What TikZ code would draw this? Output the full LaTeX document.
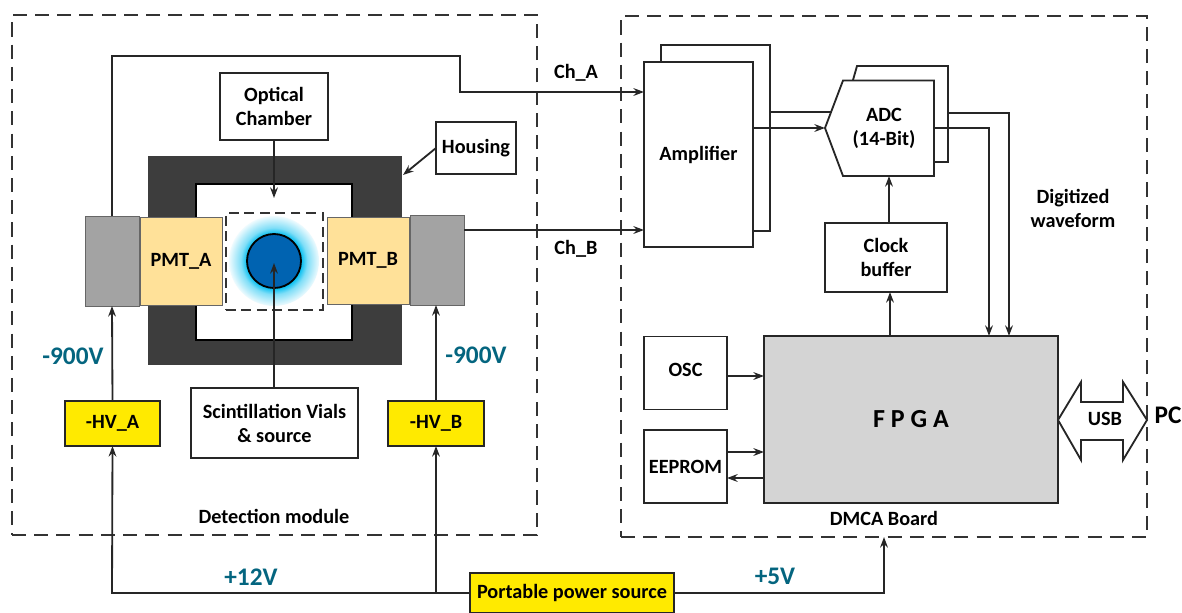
\documentclass[tikz,border=0pt]{standalone}
\usepackage{fontspec}
\setmainfont{Carlito}
\usepackage{xcolor}
\usetikzlibrary{arrows, arrows.meta, positioning, calc}
\definecolor{voltteal}{HTML}{04657F}
\definecolor{pmtfill}{HTML}{FFE199}
\definecolor{tubegray}{HTML}{A3A3A3}
\definecolor{housingdark}{HTML}{3D3D3D}
\definecolor{fpgagray}{HTML}{D4D4D4}
\definecolor{supplyyellow}{HTML}{FFEA00}
\definecolor{vialblue}{HTML}{0063B1}
\definecolor{glowcyan}{HTML}{00BDF0}
\pgfdeclareradialshading{vialglow}{\pgfpointorigin}{
  color(0bp)=(glowcyan); color(15bp)=(glowcyan); color(18.5bp)=(glowcyan!50); color(26bp)=(white); color(50bp)=(white)}
\tikzset{
  sized/.style 2 args={minimum width=#1*0.025cm, minimum height=#2*0.025cm},
  block/.style={rectangle, draw=black!85, line width=1.3pt, fill=white, inner sep=0pt, outer sep=0pt,
                align=center, font=\fontsize{14.4}{17}\selectfont\bfseries},
  module/.style={rectangle, draw=black!80, line width=1.1pt, dash pattern=on 10pt off 5.8pt,
                 inner sep=0pt, outer sep=0pt},
  plate/.style={draw=black!85, line width=1.3pt, line join=miter},
  wire/.style={draw=black!85, line width=1.3pt},
  arrow/.style={wire, -{Stealth[length=7.5pt, width=5.5pt]}},
  caption/.style={inner sep=0pt, align=center, font=\fontsize{14.4}{17}\selectfont\bfseries},
  volt/.style={caption, text=voltteal, font=\fontsize{18}{20}\selectfont\bfseries}
}
\begin{document}
\begin{tikzpicture}[x=0.025cm, y=-0.025cm]
  \useasboundingbox (0,0) rectangle (1182,612);

  % Dashed modules
  \node (detmod) [module, sized={525}{520}] at (274.5,275) {};
  \node (dmca)   [module, sized={526}{521}] at (884,276.5) {};

  % Housing and optical chamber
  \node (housing) [block, draw=none, fill=housingdark, sized={254}{209}] at (275,260.5) {};
  \node (cavity)  [block, draw=black, sized={156}{156}] at (274,262) {};
  \shade[shading=vialglow] (274,261) circle (45);
  \node (chamber) [module, sized={97}{97}, line width=1.2pt, dash pattern=on 7pt off 4pt] at (274.5,261.5) {};
  \node (vial)    [circle, draw=black, line width=1.3pt, fill=vialblue, minimum size=54*0.025cm, inner sep=0pt] at (274,261) {};

  % Photomultipliers
  \node (pmtA) [block, fill=pmtfill, draw=black!60, line width=.7pt, sized={82}{88}] at (181,261) {PMT\_A};
  \node (pmtB) [block, fill=pmtfill, draw=black!60, line width=.7pt, sized={82}{87}] at (368,260.5) {PMT\_B};
  \node (baseA) [block, fill=tubegray, draw=black!60, line width=.7pt, sized={54}{90}] at (112,261) {};
  \node (baseB) [block, fill=tubegray, draw=black!60, line width=.7pt, sized={54}{90}] at (437,260) {};

  % Labelled blocks, detection side
  \node (optical) [block, sized={108}{67}] at (274,106.5) {Optical\\Chamber};
  \node (hsglabel) [block, sized={80}{52}] at (476,148) {Housing};
  \node (vials)   [block, sized={167}{70}] at (274.5,423) {Scintillation Vials\\\& source};
  \node (hvA)     [block, fill=supplyyellow, sized={95}{45}] at (112.5,423.5) {-HV\_A};
  \node (hvB)     [block, fill=supplyyellow, sized={96}{45}] at (436,423.5) {-HV\_B};
  \node (power)   [block, fill=supplyyellow, sized={204}{40}] at (572,593) {Portable power source};

  % Amplifier and ADC
  \draw[plate] (661,62) -- (661,45) -- (770,45) -- (770,231) -- (753,231);
  \node (ampl) [block, sized={109}{185}] at (698.5,154.5) {Amplifier};
  \draw[plate] (853,80) -- (857,66) -- (948,66) -- (948,162) -- (934,162);
  \coordinate (adctip) at (825,128);
  \draw[plate, fill=white] (adctip) -- (843,80.5) -- (934,80.5) -- (934,176) -- (843,176) -- cycle;
  \node (adc) [caption] at (884,128) {ADC\\(14-Bit)};
  \coordinate (adcbot) at (889,176);
  \coordinate (adcout) at (934,128);

  % Board blocks
  \node (clock) [block, sized={122}{69}] at (886,257.5) {Clock\\buffer};
  \node (fpga)  [block, fill=fpgagray, sized={294}{167}] at (911,419.5) {};
  \node (fpgatxt) [caption, font=\fontsize{18.5}{20}\selectfont\bfseries] at (911,419) {F P G A};
  \node (osc)    [block, sized={83}{73}, text depth=4pt] at (685.5,373) {OSC};
  \node (eeprom) [block, sized={83}{73}] at (685.5,466.5) {EEPROM};

  % USB link
  \draw[plate, fill=white] (1058,420) -- (1081,382) -- (1081,402) -- (1123,402) -- (1123,382)
        -- (1147,420) -- (1123,460) -- (1123,440) -- (1081,440) -- (1081,460) -- cycle;
  \node (usb) [caption] at (1105,419) {USB};
  \node (pc)  [caption, font=\fontsize{18}{20}\selectfont\bfseries] at (1168,415) {PC};

  % Channel wires
  \draw[arrow] (baseA.north) -- (112,56) -- (460,56) -- (460,92) -- (ampl.west |- 0,92);
  \draw[arrow] (baseB.east |- 0,230) -- (ampl.west |- 0,230);
  \node (chA) [caption] at (576,73) {Ch\_A};
  \node (chB) [caption] at (576,249) {Ch\_B};
  \draw[arrow] (ampl.east |- adctip) -- (adctip);
  \draw[wire] (770,112) -- (831,112);
  \draw[arrow] (adcout) -- (989,128) -- (fpga.north -| 989,0);
  \draw[arrow] (948,113) -- (1009,113) -- (fpga.north -| 1009,0);
  \node (digit) [caption] at (1073,208) {Digitized\\waveform};

  % Clock and memory wires
  \draw[arrow] (clock.north -| adcbot) -- (adcbot);
  \draw[arrow] (fpga.north -| 890,0) -- (clock.south -| 890,0);
  \draw[arrow] (osc.east |- 0,376) -- (fpga.west |- 0,376);
  \draw[arrow] (eeprom.east |- 0,452) -- (fpga.west |- 0,452);
  \draw[arrow] (fpga.west |- 0,478) -- (eeprom.east |- 0,478);

  % Detection side wires
  \draw[arrow] (optical.south) -- (274,198);
  \draw[arrow] (vials.north -| 274,0) -- (274,263);
  \draw[arrow] (hsglabel.west) -- (403,175);
  \draw[arrow] (hvA.north) -- (baseA.south);
  \draw[arrow] (hvB.north) -- (baseB.south -| hvB.north);

  % Supply wires
  \draw[arrow] (power.west) -- (112,593) -- (hvA.south);
  \draw[arrow] (436,593) -- (hvB.south);
  \draw[arrow] (power.east) -- (884,593) -- (dmca.south -| 884,0);

  % Texts
  \node (voltA)  [volt] at (73,356) {-900V};
  \node (voltB)  [volt] at (476,355) {-900V};
  \node (volt12) [volt] at (251,577) {+12V};
  \node (volt5)  [volt] at (775,576) {+5V};
  \node (dettxt) [caption] at (274,516) {Detection module};
  \node (dmcatxt) [caption] at (884,518) {DMCA Board};
\end{tikzpicture}
\end{document}
